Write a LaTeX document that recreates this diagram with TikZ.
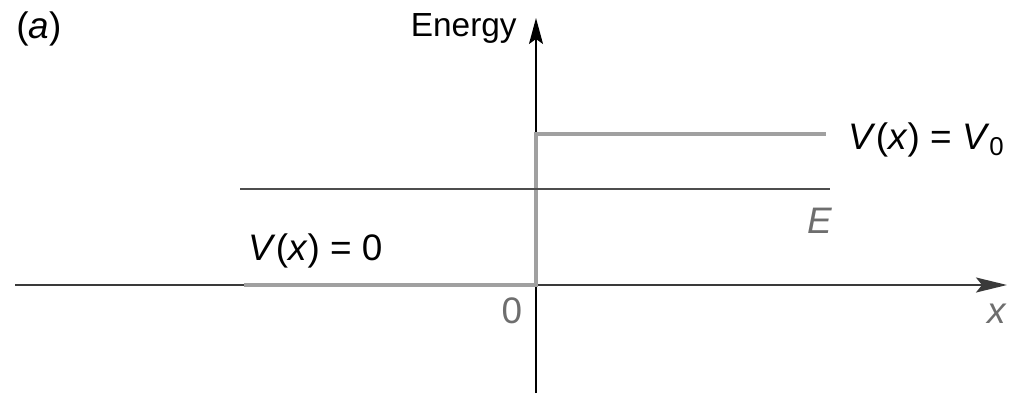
\documentclass[tikz,border=0pt]{standalone}
\usepackage{fontspec}
\setmainfont{Liberation Sans}
\usepackage{xcolor}
\usetikzlibrary{positioning,arrows.meta}
\definecolor{axisdark}{HTML}{3A3A3A}
\definecolor{potgray}{HTML}{A0A0A0}
\definecolor{labelgray}{HTML}{6E6E6E}

\begin{document}
\begin{tikzpicture}[
  axisline/.style={line width=1.1pt, axisdark},
  potline/.style={line width=2.8pt, potgray, line join=miter},
  levelline/.style={line width=1.5pt, axisdark!90},
  biglabel/.style={font=\fontsize{21}{24}\selectfont, inner sep=0pt},
  graylabel/.style={biglabel, text=labelgray},
]
\useasboundingbox (0,0) rectangle (20.26,-7.94);

% Axes
\coordinate (xstart) at (0.3,-5.70);
\coordinate (xend) at (20.14,-5.70);
\coordinate (ybottom) at (10.72,-7.86);
\coordinate (ytop) at (10.72,-0.36);
\draw[axisline, -{Stealth[length=0.62cm, width=0.3cm, inset=0.12cm]}] (xstart) -- (xend);
\draw[line width=1pt, black, -{Stealth[length=0.52cm, width=0.28cm, inset=0.1cm]}] (ybottom) -- (ytop);

% Step potential
\coordinate (p0) at (4.88,-5.70);
\coordinate (p1) at (10.72,-5.70);
\coordinate (p2) at (10.72,-2.68);
\coordinate (p3) at (16.52,-2.68);
\draw[potline] (p0) -- (p1) -- (p2) -- (p3);

% Energy level E
\coordinate (e0) at (4.80,-3.78);
\coordinate (e1) at (16.60,-3.78);
\draw[levelline] (e0) -- (e1);

% Labels
\node[biglabel, anchor=base west] (panel) at (0.32,-0.78) {(\textit{a})};
\node[font=\fontsize{19}{22}\selectfont, inner sep=0pt, anchor=base east] (energy) at (10.34,-0.74) {Energy};
\node[biglabel, anchor=base west] (vzero) at (16.96,-3.0) {\textit{V}(\textit{x}) = \textit{V}\textsubscript{0}};
\node[graylabel, anchor=base] (elabel) at (16.4,-4.66) {\textit{E}};
\node[biglabel, anchor=base west] (vnull) at (4.96,-5.2) {\textit{V}(\textit{x}) = 0};
\node[graylabel, anchor=base] (origin) at (10.24,-6.46) {0};
\node[graylabel, anchor=base] (xlabel) at (19.94,-6.46) {\textit{x}};

\end{tikzpicture}
\end{document}
